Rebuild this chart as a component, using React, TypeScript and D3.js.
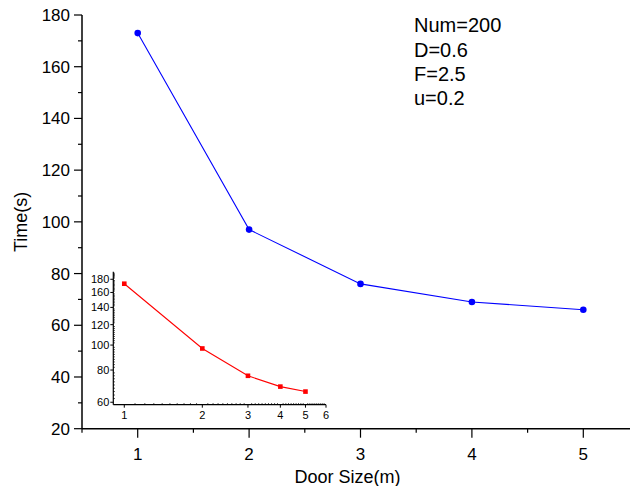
import React from "react";
import * as d3 from "d3";

const doorSizes = [1, 2, 3, 4, 5];
const times = [173, 97, 76, 69, 66];
const yTicks = [20, 40, 60, 80, 100, 120, 140, 160, 180];
const yMinorTicks = [30, 50, 70, 90, 110, 130, 150, 170];
const xTicks = [1, 2, 3, 4, 5];
const xMinorTicks = [0.5, 1.5, 2.5, 3.5, 4.5, 5.5];
const insetYTicks = [60, 80, 100, 120, 140, 160, 180];
const insetXTicks = [1, 2, 3, 4, 5, 6];
const annotations = ["Num=200", "D=0.6", "F=2.5", "u=0.2"];

const W = 630;
const H = 486;
const FONT = "'Liberation Sans', Arial, Helvetica, sans-serif";

export default function App() {
  const x = d3.scaleLinear().domain([0.5, 5.5]).range([82, 639]);
  const y = d3.scaleLinear().domain([20, 180]).range([428.7, 15]);

  const ix = d3.scaleLog().domain([0.907, 6]).range([113.3, 326]);
  const iy = d3.scaleLog().domain([58.7, 192.6]).range([404.7, 271.7]);

  const mainLine = d3
    .line<number>()
    .x((_, i) => x(doorSizes[i]))
    .y((d) => y(d));
  const insetLine = d3
    .line<number>()
    .x((_, i) => ix(doorSizes[i]))
    .y((d) => iy(d));

  const insetYMinor = d3.range(60, 192, 2).filter((v) => !insetYTicks.includes(v));
  const insetXMinor = d3
    .range(1, 6.001, 0.1)
    .map((v) => Math.round(v * 10) / 10)
    .filter((v) => !insetXTicks.includes(v));

  const x0 = x.range()[0];
  const y0 = y.range()[0];

  return (
    <div style={{ position: "absolute", left: 0, top: 0 }}>
      <svg width={W} height={H} style={{ display: "block", background: "#fff" }} fontFamily={FONT}>
        {/* main y axis */}
        <line x1={x0} x2={x0} y1={y(180)} y2={y0} stroke="#000" strokeWidth={1.5} />
        {yTicks.map((t) => (
          <g key={"yt" + t}>
            <line x1={x0 - 8} x2={x0} y1={y(t)} y2={y(t)} stroke="#000" strokeWidth={1.2} />
            <text x={x0 - 12} y={y(t) + 6} textAnchor="end" fontSize={17} fill="#000">
              {t}
            </text>
          </g>
        ))}
        {yMinorTicks.map((t) => (
          <line key={"ym" + t} x1={x0 - 4} x2={x0} y1={y(t)} y2={y(t)} stroke="#000" strokeWidth={1.2} />
        ))}
        <text
          transform={`translate(27, ${(y(180) + y0) / 2}) rotate(-90)`}
          textAnchor="middle"
          fontSize={18}
          fill="#000"
        >
          Time(s)
        </text>

        {/* main x axis */}
        <line x1={x0} x2={W} y1={y0} y2={y0} stroke="#000" strokeWidth={1.5} />
        {xTicks.map((t) => (
          <g key={"xt" + t}>
            <line x1={x(t)} x2={x(t)} y1={y0} y2={y0 + 9} stroke="#000" strokeWidth={1.2} />
            <text x={x(t)} y={459.5} textAnchor="middle" fontSize={17} fill="#000">
              {t}
            </text>
          </g>
        ))}
        {xMinorTicks.map((t) => (
          <line key={"xm" + t} x1={x(t)} x2={x(t)} y1={y0} y2={y0 + 4} stroke="#000" strokeWidth={1.2} />
        ))}
        <text x={(294 + 401) / 2} y={483} textAnchor="middle" fontSize={18} fill="#000">
          Door Size(m)
        </text>

        {/* main series */}
        <path d={mainLine(times) || ""} fill="none" stroke="#0000ff" strokeWidth={1.1} />
        {times.map((v, i) => (
          <circle key={"c" + i} cx={x(doorSizes[i])} cy={y(v)} r={3.3} fill="#0000ff" />
        ))}

        {/* annotations */}
        {annotations.map((s, i) => (
          <text key={"a" + i} x={414} y={32.3 + i * 24.3} fontSize={20} fill="#000">
            {s}
          </text>
        ))}

        {/* inset axes */}
        <line x1={ix.range()[0]} x2={ix.range()[0]} y1={iy.range()[1]} y2={iy.range()[0]} stroke="#000" strokeWidth={1.2} />
        <line x1={ix.range()[0]} x2={ix.range()[1]} y1={iy.range()[0]} y2={iy.range()[0]} stroke="#000" strokeWidth={1.2} />
        {insetYTicks.map((t) => (
          <g key={"iyt" + t}>
            <line x1={ix.range()[0] - 3} x2={ix.range()[0]} y1={iy(t)} y2={iy(t)} stroke="#000" strokeWidth={1} />
            <text x={ix.range()[0] - 4} y={iy(t) + 4} textAnchor="end" fontSize={11} fill="#000">
              {t}
            </text>
          </g>
        ))}
        {insetYMinor.map((t) => (
          <line key={"iym" + t} x1={ix.range()[0]} x2={ix.range()[0] + 1.5} y1={iy(t)} y2={iy(t)} stroke="#000" strokeWidth={0.8} />
        ))}
        {insetXTicks.map((t) => (
          <g key={"ixt" + t}>
            <line x1={ix(t)} x2={ix(t)} y1={iy.range()[0]} y2={iy.range()[0] + 3} stroke="#000" strokeWidth={1} />
            <text x={ix(t)} y={418.5} textAnchor="middle" fontSize={11} fill="#000">
              {t}
            </text>
          </g>
        ))}
        {insetXMinor.map((t) => (
          <line key={"ixm" + t} x1={ix(t)} x2={ix(t)} y1={iy.range()[0]} y2={iy.range()[0] - 1.5} stroke="#000" strokeWidth={0.8} />
        ))}

        {/* inset series */}
        <path d={insetLine(times) || ""} fill="none" stroke="#ff0000" strokeWidth={1.1} />
        {times.map((v, i) => (
          <rect
            key={"r" + i}
            x={ix(doorSizes[i]) - 2.3}
            y={iy(v) - 2.3}
            width={4.6}
            height={4.6}
            fill="#ff0000"
          />
        ))}
      </svg>
    </div>
  );
}
